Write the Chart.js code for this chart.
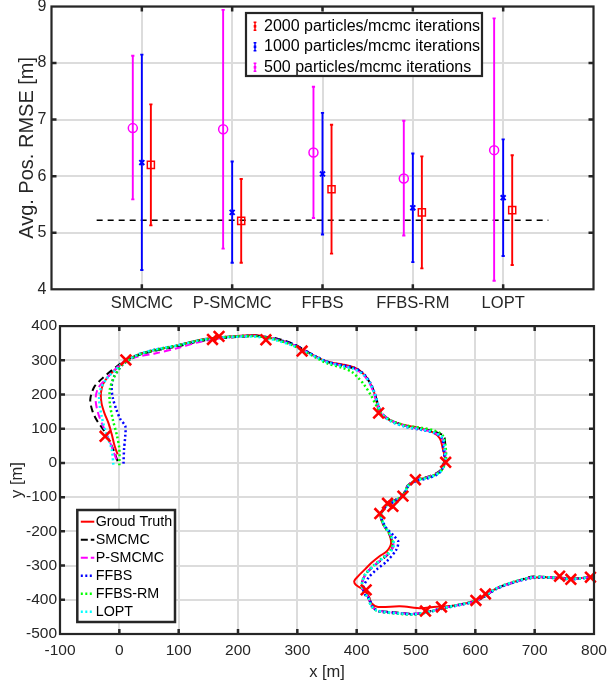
<!DOCTYPE html>
<html>
<head>
<meta charset="utf-8">
<script src="https://cdn.jsdelivr.net/npm/chart.js@4.4.1/dist/chart.umd.min.js"></script>
<style>
html,body{margin:0;padding:0;background:#fff;}
#wrap{position:relative;width:616px;height:685px;overflow:hidden;background:#fff;}
canvas{position:absolute;left:0;}
#topChart{top:0;}
#botChart{top:316px;}
</style>
</head>
<body>
<div id="wrap">
<canvas id="topChart" width="616" height="316"></canvas>
<canvas id="botChart" width="616" height="369"></canvas>
</div>
<script>
// ---------------- DATA: top panel ----------------
const CATEGORIES = ['SMCMC', 'P-SMCMC', 'FFBS', 'FFBS-RM', 'LOPT'];
const TOP_Y_TICKS = [4, 5, 6, 7, 8, 9];

const MEAN_2000 = [6.20, 5.21, 5.77, 5.36, 5.40];
const LOW_2000  = [5.13, 4.47, 4.63, 4.37, 4.43];
const HIGH_2000 = [7.27, 5.95, 6.91, 6.35, 6.37];

const MEAN_1000 = [6.24, 5.36, 6.04, 5.44, 5.62];
const LOW_1000  = [4.34, 4.47, 4.97, 4.48, 4.59];
const HIGH_1000 = [8.15, 6.26, 7.12, 6.40, 6.65];

const MEAN_500 = [6.85, 6.83, 6.42, 5.96, 6.46];
const LOW_500  = [5.59, 4.72, 5.26, 4.95, 4.15];
const HIGH_500 = [8.13, 8.94, 7.58, 6.98, 8.79];

const BASELINE_RMSE = 5.22;
const BASELINE_SPAN = [0.5, 5.5];

const LEGEND_TOP = ['2000 particles/mcmc iterations', '1000 particles/mcmc iterations', '500 particles/mcmc iterations'];

// ---------------- DATA: bottom panel ----------------
const BOT_X_TICKS = [-100, 0, 100, 200, 300, 400, 500, 600, 700, 800];
const BOT_Y_TICKS = [-500, -400, -300, -200, -100, 0, 100, 200, 300, 400];

const GT_PATH = [[-3,25],[-8,50],[-13,85],[-18,115],[-25,145],[-30,175],[-31,205],[-27,232],[-18,254],[-5,276],[10,298],[30,316],[60,330],[97,343],[131,358],[157,365],[197,371],[230,374],[248,368],[263,362],[290,348],[310,330],[330,312],[350,296],[376,288],[396,279],[410,263],[421,238],[429,208],[434,175],[438,148],[455,126],[480,111],[508,101],[528,90],[540,72],[545,43],[549,5],[542,-24],[524,-40],[500,-50],[486,-68],[479,-95],[462,-113],[450,-125],[440,-150],[444,-178],[453,-200],[458,-234],[451,-258],[439,-272],[425,-292],[414,-311],[403,-330],[396,-345],[399,-357],[414,-374],[421,-392],[425,-410],[436,-421],[473,-419],[509,-425],[529,-421],[569,-416],[600,-402],[616,-388],[637,-365],[670,-345],[698,-335],[743,-335],[762,-338],[800,-333]];

const SMCMC_PATH = [[-3,5],[-8,30],[-16,62],[-26,95],[-37,122],[-45,150],[-49,185],[-43,220],[-32,242],[-19,262],[-5,281],[8,298],[30,314],[60,328],[97,340],[131,354],[157,362],[197,368],[230,371],[250,368],[265,364],[292,349],[312,330],[332,310],[352,295],[376,284],[396,276],[411,260],[422,236],[430,205],[436,172],[441,148],[457,125],[482,109],[508,100],[530,92],[547,78],[549,45],[548,8],[541,-22],[524,-38],[500,-49],[486,-66],[478,-93],[462,-111],[450,-124],[441,-150],[445,-180],[455,-208],[461,-236],[458,-258],[446,-278],[430,-300],[416,-323],[409,-350],[411,-374],[420,-393],[424,-415],[434,-430],[473,-438],[496,-441],[518,-436],[546,-424],[569,-415],[600,-404],[616,-390],[637,-366],[670,-346],[698,-332],[743,-337],[762,-339],[800,-333]];

const PSMCMC_PATH = [[-5,10],[-10,35],[-18,70],[-28,110],[-36,147],[-40,185],[-36,218],[-22,247],[-8,272],[6,294],[30,310],[60,320],[97,335],[131,352],[157,361],[197,369],[230,371],[250,366],[265,361],[292,346],[312,328],[332,309],[352,294],[376,284],[396,275],[410,260],[420,238],[428,208],[434,175],[440,150],[456,126],[481,109],[508,99],[529,90],[543,74],[548,45],[550,8],[542,-23],[524,-39],[500,-50],[486,-67],[479,-94],[462,-112],[450,-124],[441,-150],[446,-182],[456,-210],[462,-238],[458,-256],[445,-277],[429,-300],[415,-325],[409,-352],[411,-374],[420,-393],[424,-416],[434,-431],[473,-439],[496,-441],[518,-436],[546,-424],[569,-416],[600,-404],[616,-389],[637,-366],[670,-346],[698,-334],[743,-336],[762,-339],[800,-333]];

const FFBS_PATH = [[7,-2],[8,41],[10,80],[10,108],[2,127],[-5,156],[-11,190],[-13,223],[-9,252],[-2,271],[7,290],[30,314],[60,331],[97,343],[131,357],[157,364],[197,370],[230,372],[250,367],[265,362],[292,347],[312,330],[332,311],[352,295],[376,286],[396,278],[411,262],[422,237],[430,206],[436,172],[441,146],[457,123],[482,106],[508,97],[530,88],[544,72],[546,44],[548,6],[540,-28],[522,-44],[500,-53],[486,-71],[478,-97],[462,-114],[450,-126],[441,-152],[448,-185],[462,-212],[470,-229],[467,-253],[451,-287],[434,-311],[420,-335],[411,-364],[414,-384],[422,-400],[426,-418],[436,-433],[473,-440],[496,-442],[518,-437],[546,-425],[569,-417],[600,-405],[616,-390],[637,-367],[670,-347],[698,-336],[743,-337],[762,-340],[800,-334]];

const FFBSRM_PATH = [[0,-7],[0,41],[-4,80],[-11,127],[-16,175],[-16,214],[-10,247],[-2,271],[7,290],[30,314],[60,330],[97,343],[131,357],[157,364],[197,370],[230,371],[250,366],[265,360],[292,344],[312,326],[332,307],[352,290],[376,278],[392,266],[402,250],[412,230],[424,198],[433,168],[442,144],[458,124],[482,110],[508,103],[530,95],[545,80],[550,45],[550,6],[542,-24],[524,-40],[500,-51],[486,-68],[479,-94],[462,-112],[450,-124],[441,-150],[446,-182],[456,-210],[461,-236],[456,-258],[443,-278],[427,-302],[414,-326],[409,-352],[411,-376],[420,-395],[424,-417],[434,-432],[473,-441],[496,-443],[518,-437],[546,-425],[569,-416],[600,-404],[616,-389],[637,-365],[670,-345],[698,-334],[743,-336],[762,-339],[800,-333]];

const LOPT_PATH = [[-10,-5],[-13,41],[-21,80],[-30,137],[-34,185],[-32,214],[-21,247],[-7,271],[4,290],[30,316],[60,331],[97,343],[131,357],[157,365],[197,369],[230,369],[250,364],[265,358],[292,343],[312,326],[332,309],[352,293],[376,283],[396,274],[411,258],[422,234],[430,203],[436,171],[441,146],[457,122],[482,106],[508,98],[530,89],[545,73],[548,44],[549,6],[541,-26],[523,-42],[500,-52],[486,-69],[479,-96],[462,-113],[450,-125],[441,-151],[447,-183],[458,-212],[463,-238],[458,-258],[445,-278],[429,-301],[415,-326],[409,-353],[411,-376],[420,-394],[424,-416],[434,-431],[473,-440],[496,-442],[518,-437],[546,-424],[569,-416],[600,-404],[616,-389],[637,-365],[670,-345],[698,-334],[743,-336],[762,-339],[800,-333]];

const CROSS_MARKS = [[-24,78],[11,301],[157,361],[168,370],[247,360],[308,327],[437,146],[550,2],[499,-49],[478,-97],[452,-118],[461,-127],[439,-148],[416,-371],[516,-433],[543,-421],[601,-402],[617,-383],[742,-331],[761,-340],[794,-334]];

const BOT_LABELS = ['Groud Truth', 'SMCMC', 'P-SMCMC', 'FFBS', 'FFBS-RM', 'LOPT'];

// ---------------- styling ----------------
const FONT = "'Liberation Sans', Arial, Helvetica, sans-serif";
const FRAME = '#262626';
const GRID = '#dcdcdc';
const TXT = '#262626';
Chart.defaults.font.family = FONT;
Chart.defaults.color = TXT;
Chart.defaults.animation = false;

const TOP_SERIES = [
  {label: LEGEND_TOP[0], mean: MEAN_2000, low: LOW_2000, high: HIGH_2000, color: '#ff0000', off: 0.1, style: 'rect', r: 5, bw: 1.5},
  {label: LEGEND_TOP[1], mean: MEAN_1000, low: LOW_1000, high: HIGH_1000, color: '#0000ff', off: 0.0, style: 'crossRot', r: 3.5, bw: 2},
  {label: LEGEND_TOP[2], mean: MEAN_500, low: LOW_500, high: HIGH_500, color: '#ff00ff', off: -0.1, style: 'circle', r: 4.5, bw: 1.5}
];

function frameAndTicks(tickLen) {
  return {
    id: 'frameTicks',
    afterDraw(chart) {
      const {left, right, top, bottom} = chart.chartArea;
      const ctx = chart.ctx;
      const xs = chart.scales.x, ys = chart.scales.y;
      ctx.save();
      ctx.strokeStyle = FRAME;
      ctx.lineWidth = 2.5;
      ctx.beginPath();
      xs.ticks.forEach(t => {
        const p = xs.getPixelForValue(t.value);
        if (p > left + 2 && p < right - 2) {
          ctx.moveTo(p, bottom); ctx.lineTo(p, bottom - tickLen);
          ctx.moveTo(p, top); ctx.lineTo(p, top + tickLen);
        }
      });
      ys.ticks.forEach(t => {
        const p = ys.getPixelForValue(t.value);
        if (p > top + 2 && p < bottom - 2) {
          ctx.moveTo(left, p); ctx.lineTo(left + tickLen, p);
          ctx.moveTo(right, p); ctx.lineTo(right - tickLen, p);
        }
      });
      ctx.stroke();
      ctx.lineWidth = 2.2;
      ctx.strokeRect(left, top, right - left, bottom - top);
      ctx.restore();
    }
  };
}

const errorBarPlugin = {
  id: 'errorBars',
  beforeDatasetsDraw(chart) {
    const ctx = chart.ctx;
    const xs = chart.scales.x, ys = chart.scales.y;
    ctx.save();
    ctx.strokeStyle = '#000';
    ctx.lineWidth = 1.5;
    ctx.setLineDash([6, 5]);
    ctx.beginPath();
    ctx.moveTo(xs.getPixelForValue(BASELINE_SPAN[0]), ys.getPixelForValue(BASELINE_RMSE));
    ctx.lineTo(xs.getPixelForValue(BASELINE_SPAN[1]), ys.getPixelForValue(BASELINE_RMSE));
    ctx.stroke();
    ctx.setLineDash([]);
    TOP_SERIES.forEach(s => {
      ctx.strokeStyle = s.color;
      ctx.lineWidth = 1.9;
      ctx.beginPath();
      CATEGORIES.forEach((c, i) => {
        const x = xs.getPixelForValue(i + 1 + s.off);
        const y1 = ys.getPixelForValue(s.low[i]);
        const y2 = ys.getPixelForValue(s.high[i]);
        ctx.moveTo(x, y1); ctx.lineTo(x, y2);
        ctx.moveTo(x - 1.6, y1); ctx.lineTo(x + 1.6, y1);
        ctx.moveTo(x - 1.6, y2); ctx.lineTo(x + 1.6, y2);
      });
      ctx.stroke();
    });
    ctx.restore();
  }
};

const topLegendPlugin = {
  id: 'topLegend',
  afterDraw(chart) {
    const ctx = chart.ctx;
    const bx = 246, by = 13, bw = 236, bh = 63;
    ctx.save();
    ctx.fillStyle = '#fff';
    ctx.fillRect(bx, by, bw, bh);
    ctx.strokeStyle = FRAME;
    ctx.lineWidth = 2.2;
    ctx.strokeRect(bx, by, bw, bh);
    ctx.font = '16px ' + FONT;
    ctx.textBaseline = 'middle';
    ctx.textAlign = 'left';
    TOP_SERIES.forEach((s, k) => {
      const y = by + 13.3 + k * 20.5;
      const x = bx + 9;
      ctx.strokeStyle = s.color;
      ctx.lineWidth = 1.4;
      ctx.beginPath();
      ctx.moveTo(x, y - 4); ctx.lineTo(x, y + 4);
      ctx.moveTo(x - 1.4, y - 4); ctx.lineTo(x + 1.4, y - 4);
      ctx.moveTo(x - 1.4, y + 4); ctx.lineTo(x + 1.4, y + 4);
      ctx.stroke();
      ctx.fillStyle = s.color;
      ctx.fillRect(x - 1.3, y - 1.3, 2.6, 2.6);
      ctx.fillStyle = '#000';
      ctx.fillText(s.label, bx + 18, y);
    });
    ctx.restore();
  }
};

const topDatasets = TOP_SERIES.map(s => ({
  label: s.label,
  data: s.mean.map((m, i) => ({x: i + 1 + s.off, y: m})),
  showLine: false,
  pointStyle: s.style,
  pointRadius: s.r,
  pointBorderWidth: s.bw,
  pointBorderColor: s.color,
  pointBackgroundColor: 'rgba(0,0,0,0)',
  borderColor: s.color
}));

new Chart(document.getElementById('topChart'), {
  type: 'scatter',
  data: {datasets: topDatasets},
  options: {
    responsive: false,
    events: [],
    layout: {padding: {left: 0, right: 22.5, top: 4.7, bottom: 0}},
    plugins: {legend: {display: false}, tooltip: {enabled: false}},
    scales: {
      x: {
        type: 'linear', min: 0, max: CATEGORIES.length + 1,
        afterBuildTicks: s => { s.ticks = CATEGORIES.map((c, i) => ({value: i + 1})); },
        ticks: {callback: v => CATEGORIES[Math.round(v) - 1] || '', font: {size: 16.5}, padding: 4.3, maxRotation: 0, autoSkip: false, color: TXT},
        grid: {color: GRID, lineWidth: 2, drawTicks: false},
        border: {display: false},
        afterFit: s => { s.height = 26.7; s.paddingLeft = 0; s.paddingRight = 0; }
      },
      y: {
        type: 'linear', min: 4, max: 9,
        afterBuildTicks: s => { s.ticks = TOP_Y_TICKS.map(v => ({value: v})); },
        ticks: {callback: v => String(v), font: {size: 16}, padding: 5, color: TXT},
        grid: {color: GRID, lineWidth: 2, drawTicks: false},
        border: {display: false},
        title: {display: true, text: 'Avg. Pos. RMSE [m]', font: {size: 20}, color: TXT, padding: {top: 15, bottom: 0}},
        afterFit: s => { s.width = 51.5; s.paddingTop = 0; s.paddingBottom = 0; }
      }
    }
  },
  plugins: [errorBarPlugin, frameAndTicks(5), topLegendPlugin]
});

// ---------------- bottom chart ----------------
const toPts = arr => arr.map(p => ({x: p[0], y: p[1]}));
const BOT_SERIES = [
  {label: BOT_LABELS[0], data: GT_PATH, color: '#ff0000', dash: [], width: 2},
  {label: BOT_LABELS[1], data: SMCMC_PATH, color: '#000000', dash: [7, 4], width: 2},
  {label: BOT_LABELS[2], data: PSMCMC_PATH, color: '#ff00ff', dash: [7, 4], width: 2},
  {label: BOT_LABELS[3], data: FFBS_PATH, color: '#0000ff', dash: [2, 2.5], width: 2.5},
  {label: BOT_LABELS[4], data: FFBSRM_PATH, color: '#00ff00', dash: [2, 2.5], width: 2.5},
  {label: BOT_LABELS[5], data: LOPT_PATH, color: '#00ffff', dash: [2, 2.5], width: 2.5}
];

const botDatasets = BOT_SERIES.map((s, i) => ({
  label: s.label,
  data: toPts(s.data),
  showLine: true,
  borderColor: s.color,
  borderWidth: s.width,
  borderDash: s.dash,
  pointRadius: 0,
  tension: 0.3,
  fill: false,
  order: 10 - i
}));
botDatasets.push({
  label: 'marks',
  data: toPts(CROSS_MARKS),
  showLine: false,
  pointStyle: 'crossRot',
  pointRadius: 7.5,
  pointBorderWidth: 2.6,
  pointBorderColor: '#ff0000',
  borderColor: '#ff0000',
  clip: 8,
  order: 0
});

const botLegendPlugin = {
  id: 'botLegend',
  afterDraw(chart) {
    const ctx = chart.ctx;
    const bx = 77.3, by = 194, bw = 97.7, bh = 112;
    ctx.save();
    ctx.fillStyle = '#fff';
    ctx.fillRect(bx, by, bw, bh);
    ctx.strokeStyle = FRAME;
    ctx.lineWidth = 2.5;
    ctx.strokeRect(bx, by, bw, bh);
    ctx.font = '14.3px ' + FONT;
    ctx.textBaseline = 'middle';
    ctx.textAlign = 'left';
    BOT_SERIES.forEach((s, k) => {
      const y = by + 11.7 + k * 18;
      ctx.strokeStyle = s.color;
      ctx.lineWidth = s.width;
      ctx.setLineDash(s.dash.length ? (s.dash[0] > 3 ? [7, 3] : s.dash) : []);
      ctx.beginPath();
      ctx.moveTo(bx + 3.5, y); ctx.lineTo(bx + 17, y);
      ctx.stroke();
      ctx.setLineDash([]);
      ctx.fillStyle = '#000';
      ctx.fillText(s.label, bx + 18.4, y);
    });
    ctx.restore();
  }
};

new Chart(document.getElementById('botChart'), {
  type: 'scatter',
  data: {datasets: botDatasets},
  options: {
    responsive: false,
    events: [],
    layout: {padding: {left: 0, right: 22, top: 7, bottom: 0}},
    plugins: {legend: {display: false}, tooltip: {enabled: false}},
    scales: {
      x: {
        type: 'linear', min: -100, max: 800,
        afterBuildTicks: s => { s.ticks = BOT_X_TICKS.map(v => ({value: v})); },
        ticks: {callback: v => String(v), font: {size: 15.5}, padding: 7.7, maxRotation: 0, autoSkip: false, color: TXT},
        grid: {color: GRID, lineWidth: 2, drawTicks: false},
        border: {display: false},
        title: {display: true, text: 'x [m]', font: {size: 16.5}, color: TXT, padding: {top: 0, bottom: 3}},
        afterFit: s => { s.height = 51; s.paddingLeft = 0; s.paddingRight = 0; }
      },
      y: {
        type: 'linear', min: -500, max: 400,
        afterBuildTicks: s => { s.ticks = BOT_Y_TICKS.map(v => ({value: v})); },
        ticks: {callback: v => String(v), font: {size: 15.5}, padding: 3, autoSkip: false, color: TXT},
        grid: {color: GRID, lineWidth: 2, drawTicks: false},
        border: {display: false},
        title: {display: true, text: 'y [m]', font: {size: 16.5}, color: TXT, padding: {top: 7.8, bottom: 0}},
        afterFit: s => { s.width = 60; s.paddingTop = 0; s.paddingBottom = 0; }
      }
    }
  },
  plugins: [frameAndTicks(5), botLegendPlugin]
});
</script>
</body>
</html>
